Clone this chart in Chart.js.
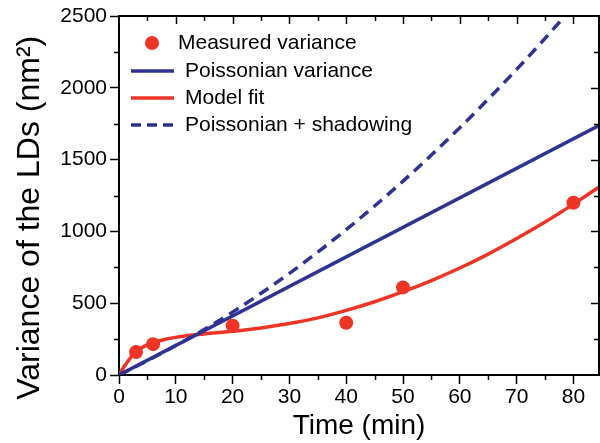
<!DOCTYPE html>
<html lang="en">
<head>
  <meta charset="UTF-8" />
  <title>Variance of the LDs</title>
  <script src="https://cdn.jsdelivr.net/npm/chart.js"></script>
  <style>
    body {
      margin: 0;
      background: #fff;
      overflow: hidden;
    }
    .wrap {
      width: 606px;
      height: 443px;
    }
  </style>
</head>
<body>
<div class="wrap"><canvas id="varChart"></canvas></div>
<script>
  // Measured points
  const measuredTime = [3, 6, 20, 40, 50, 80];
  const measuredVar = [160, 215, 343, 364, 610, 1200];

  // Poissonian variance (straight line)
  const poissonTime = [0, 85];
  const poissonVar = [0, 1748];

  // Poissonian + shadowing (dashed)
  const shadowTime = [0, 5, 10, 15, 20, 25, 30, 35, 40, 45, 50, 55, 60, 65, 70, 75, 80];
  const shadowVar = [0, 100, 205, 316, 438, 569, 708, 856, 1012, 1177, 1350, 1532, 1722, 1921, 2128, 2344, 2568];

  // Model fit
  const fitTime = [0, 1, 2, 3, 4, 5, 6, 8, 10, 13, 16, 20, 25, 30, 35, 40, 45, 50, 55, 60, 65, 70, 75, 80, 85];
  const fitVar = [0, 65, 118, 160, 190, 210, 225, 247, 262, 278, 290, 305, 328, 358, 398, 450, 510, 580, 658, 745, 842, 950, 1065, 1190, 1322];

  const legendLabels = ['Measured variance', 'Poissonian variance', 'Model fit', 'Poissonian + shadowing'];

  const RED = '#ee3424';
  const BLUE = '#2f3193';
  const FONT = '"Liberation Sans", Arial, Helvetica, sans-serif';

  const toXY = (xs, ys) => xs.map((t, i) => ({ x: t, y: ys[i] }));

  Chart.defaults.font.family = FONT;
  Chart.defaults.color = '#000';

  // frame, minor ticks and in-plot legend
  const extras = {
    id: 'extras',
    afterDraw(chart) {
      const { ctx, chartArea: a, scales: { x, y } } = chart;
      ctx.save();
      ctx.strokeStyle = '#000';
      ctx.lineWidth = 2;
      ctx.beginPath();
      ctx.moveTo(a.left, a.top);
      ctx.lineTo(a.right, a.top);
      ctx.lineTo(a.right, a.bottom);
      ctx.stroke();

      ctx.lineWidth = 1.5;
      ctx.beginPath();
      for (let t = 5; t < x.max; t += 5) {
        const px = Math.round(x.getPixelForValue(t)) + 0.5;
        const major = t % 10 === 0;
        if (!major) {
          ctx.moveTo(px, a.bottom);
          ctx.lineTo(px, a.bottom + 5);
        }
        ctx.moveTo(px, a.top);
        ctx.lineTo(px, a.top + (major ? 8 : 5));
      }
      for (let v = 250; v < y.max; v += 250) {
        const py = Math.round(y.getPixelForValue(v)) + 0.5;
        const major = v % 500 === 0;
        if (!major) {
          ctx.moveTo(a.left, py);
          ctx.lineTo(a.left - 5, py);
        }
        ctx.moveTo(a.right, py);
        ctx.lineTo(a.right - (major ? 8 : 5), py);
      }
      ctx.stroke();

      // legend
      const rows = [a.top + 27, a.top + 55, a.top + 82, a.top + 109];
      const x0 = a.left + 12, x1 = a.left + 55;
      ctx.font = '21px ' + FONT;
      ctx.textBaseline = 'middle';

      ctx.beginPath();
      ctx.fillStyle = RED;
      ctx.arc(a.left + 33, rows[0], 7, 0, Math.PI * 2);
      ctx.fill();

      ctx.lineWidth = 3.5;
      ctx.strokeStyle = BLUE;
      ctx.beginPath();
      ctx.moveTo(x0, rows[1]); ctx.lineTo(x1, rows[1]);
      ctx.stroke();

      ctx.strokeStyle = RED;
      ctx.beginPath();
      ctx.moveTo(x0, rows[2]); ctx.lineTo(x1, rows[2]);
      ctx.stroke();

      ctx.strokeStyle = BLUE;
      ctx.setLineDash([10, 6]);
      ctx.beginPath();
      ctx.moveTo(x0, rows[3]); ctx.lineTo(x1 + 2, rows[3]);
      ctx.stroke();
      ctx.setLineDash([]);

      ctx.fillStyle = '#000';
      ctx.fillText(legendLabels[0], a.left + 59, rows[0]);
      for (let i = 1; i < 4; i++) {
        ctx.fillText(legendLabels[i], a.left + 66, rows[i]);
      }
      ctx.restore();
    }
  };

  const ctx = document.getElementById('varChart').getContext('2d');
  new Chart(ctx, {
    type: 'line',
    data: {
      datasets: [
        {
          label: legendLabels[0],
          data: toXY(measuredTime, measuredVar),
          showLine: false,
          pointRadius: 7,
          pointBackgroundColor: RED,
          pointBorderWidth: 0,
          order: 0
        },
        {
          label: legendLabels[3],
          data: toXY(shadowTime, shadowVar),
          borderColor: BLUE,
          borderWidth: 3.5,
          borderDash: [11, 7],
          pointRadius: 0,
          cubicInterpolationMode: 'monotone',
          order: 1
        },
        {
          label: legendLabels[1],
          data: toXY(poissonTime, poissonVar),
          borderColor: BLUE,
          borderWidth: 3.5,
          pointRadius: 0,
          order: 2
        },
        {
          label: legendLabels[2],
          data: toXY(fitTime, fitVar),
          borderColor: RED,
          borderWidth: 3.5,
          pointRadius: 0,
          cubicInterpolationMode: 'monotone',
          order: 3
        }
      ]
    },
    options: {
      responsive: true,
      maintainAspectRatio: false,
      animation: false,
      layout: { padding: { top: 16, right: 3, left: 0, bottom: 0 } },
      plugins: {
        legend: { display: false },
        tooltip: { enabled: false }
      },
      scales: {
        x: {
          type: 'linear',
          min: 0,
          max: 84.5,
          afterFit(scale) { scale.height = 68; },
          border: { color: '#000', width: 2 },
          grid: { drawOnChartArea: false, tickLength: 9, tickColor: '#000', tickWidth: 1.5 },
          ticks: { stepSize: 10, includeBounds: false, padding: 1, maxRotation: 0, font: { size: 21 }, color: '#000' },
          title: { display: true, text: 'Time (min)', font: { size: 28 }, color: '#000', padding: { top: 0, bottom: 0 } }
        },
        y: {
          min: 0,
          max: 2500,
          afterFit(scale) { scale.width = 119; },
          border: { color: '#000', width: 2 },
          grid: { drawOnChartArea: false, tickLength: 9, tickColor: '#000', tickWidth: 1.5 },
          ticks: { stepSize: 500, padding: 3, font: { size: 21 }, color: '#000', callback: v => String(v) },
          title: { display: true, text: 'Variance of the LDs (nm\u00b2)     ', font: { size: 32 }, color: '#000', padding: { top: 11, bottom: 0 } }
        }
      }
    },
    plugins: [extras]
  });
</script>
</body>
</html>
